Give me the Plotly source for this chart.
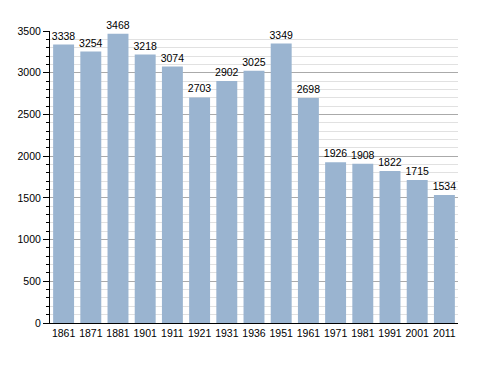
import plotly.graph_objects as go

years = ["1861", "1871", "1881", "1901", "1911", "1921", "1931", "1936",
         "1951", "1961", "1971", "1981", "1991", "2001", "2011"]
population = [3338, 3254, 3468, 3218, 3074, 2703, 2902, 3025,
              3349, 2698, 1926, 1908, 1822, 1715, 1534]

FONT = "Liberation Sans, Arial, Helvetica, sans-serif"

fig = go.Figure()
fig.add_trace(go.Bar(
    x=years, y=population,
    marker=dict(color="rgb(154,180,208)", line=dict(width=0)),
    text=[str(v) for v in population],
    textposition="outside",
    constraintext="none",
    cliponaxis=False,
    textfont=dict(family=FONT, size=10.5, color="black"),
))

fig.update_layout(
    width=488, height=373,
    margin=dict(l=42, r=38, t=23, b=58),
    paper_bgcolor="white", plot_bgcolor="white",
    bargap=0.23,
    showlegend=False,
    font=dict(family=FONT, size=10.5, color="black"),
    xaxis=dict(
        type="category",
        showline=True, linecolor="black", linewidth=1,
        ticks="", tickfont=dict(size=10.5),
        showgrid=False,
        automargin=False,
    ),
    yaxis=dict(
        range=[0, 3500],
        dtick=500,
        showline=True, linecolor="black", linewidth=1,
        ticks="outside", ticklen=6, tickcolor="black",
        showgrid=True, gridcolor="rgb(170,170,170)", gridwidth=1,
        minor=dict(dtick=100, showgrid=True, gridcolor="rgb(225,225,225)",
                   ticks="outside", ticklen=3, tickcolor="black"),
        tickfont=dict(size=10.5),
        zeroline=False,
        automargin=False,
    ),
)

fig.write_html("out.html")
